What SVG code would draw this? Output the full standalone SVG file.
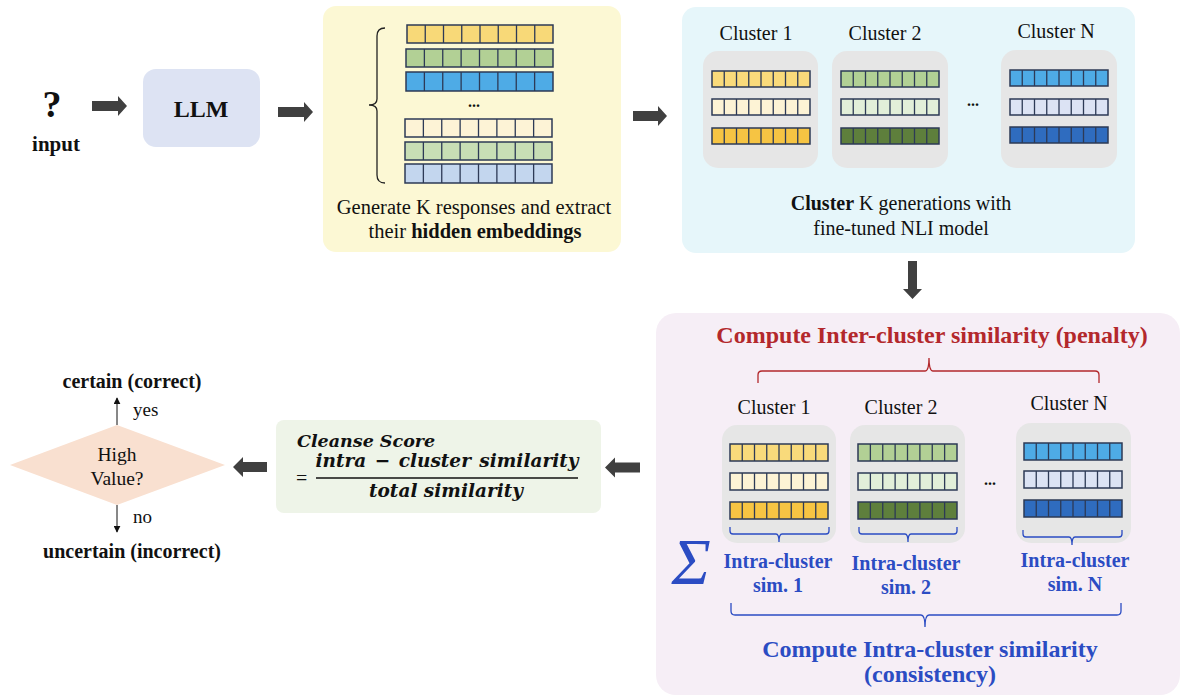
<svg xmlns="http://www.w3.org/2000/svg" xmlns:xlink="http://www.w3.org/1999/xlink" width="1182" height="697" viewBox="0 0 1182 697">
<style>
text{font-family:"Liberation Serif","Times New Roman",serif;fill:#111}
.t20{font-size:20px}
.b{font-weight:bold}
.mid{text-anchor:middle}
.red{fill:#b3282c}
.blue{fill:#2b4cc3}
.math{font-family:"DejaVu Serif",serif;font-weight:bold;font-style:italic;font-size:17.5px}
.gray{fill:#e6e6e6}
.arrow{fill:#404040}
</style>
<defs>
<symbol id="row" viewBox="0 0 80 10" preserveAspectRatio="none" style="overflow:visible">
<rect x="0" y="0" width="80" height="10" stroke="#2d3a56" stroke-width="1.5" vector-effect="non-scaling-stroke"/>
<path d="M10 0V10M20 0V10M30 0V10M40 0V10M50 0V10M60 0V10M70 0V10" stroke="#2d3a56" stroke-width="1.3" vector-effect="non-scaling-stroke" fill="none"/>
</symbol>
<marker id="ah" viewBox="0 0 10 10" refX="9" refY="5" markerWidth="7" markerHeight="7" orient="auto" markerUnits="userSpaceOnUse">
<path d="M0 0L10 5L0 10z" fill="#111"/>
</marker>
</defs>
<rect width="1182" height="697" fill="#fff"/>

<g id="input">
<text class="b mid" x="52" y="117" font-size="38">?</text>
<text class="b mid" x="56" y="151" font-size="21">input</text>
</g>

<g id="llm">
<rect x="143" y="69" width="117" height="78" rx="13" fill="#dde3f3"/>
<text class="b mid" x="201" y="117" font-size="24">LLM</text>
</g>

<g id="generate">
<rect x="323" y="6" width="298" height="246" rx="13" fill="#fcf8d4"/>
<path d="M385 28Q377 28 377 36V99Q377 105 369 105Q377 105 377 111V175Q377 183 385 183" fill="none" stroke="#222" stroke-width="1.3"/>
<use href="#row" x="407" y="25" width="146" height="18" fill="#f8d978"/>
<use href="#row" x="406" y="49" width="147" height="18" fill="#b2d095"/>
<use href="#row" x="406" y="72" width="147" height="19" fill="#4eabe6"/>
<text class="b mid" x="474" y="107" font-size="16">...</text>
<use href="#row" x="405" y="119" width="147" height="18" fill="#fdf3d6"/>
<use href="#row" x="405" y="142" width="147" height="18" fill="#c8deb5"/>
<use href="#row" x="405" y="164" width="147" height="19" fill="#c3d6ee"/>
<text class="mid" x="474" y="214" font-size="20.5">Generate K responses and extract</text>
<text class="mid" x="475" y="238" font-size="20.5">their <tspan class="b">hidden embeddings</tspan></text>
</g>

<g id="cluster-top">
<rect x="682" y="7" width="453" height="246" rx="14" fill="#e6f6fa"/>
<text class="t20 mid" x="756" y="40">Cluster 1</text>
<text class="t20 mid" x="885" y="40">Cluster 2</text>
<text class="t20 mid" x="1056" y="38">Cluster N</text>
<rect class="gray" x="703" y="51" width="115" height="117" rx="15"/>
<rect class="gray" x="832" y="51" width="116" height="117" rx="15"/>
<rect class="gray" x="1001" y="50" width="116" height="118" rx="15"/>
<use href="#row" x="712" y="71" width="98" height="16" fill="#f9da7b"/>
<use href="#row" x="712" y="99" width="98" height="16" fill="#fdf3d5"/>
<use href="#row" x="712" y="128" width="98" height="16" fill="#f6c443"/>
<use href="#row" x="841" y="71" width="98" height="16" fill="#b2d095"/>
<use href="#row" x="841" y="99" width="98" height="16" fill="#e2efd9"/>
<use href="#row" x="841" y="128" width="98" height="16" fill="#5e7f3c"/>
<use href="#row" x="1010" y="70" width="98" height="16" fill="#4eabe6"/>
<use href="#row" x="1010" y="99" width="98" height="16" fill="#dce3f4"/>
<use href="#row" x="1010" y="127" width="98" height="16" fill="#2f6cbf"/>
<text class="b mid" x="973" y="106" font-size="16">...</text>
<text class="t20 mid" x="901" y="210"><tspan class="b">Cluster</tspan> K generations with</text>
<text class="t20 mid" x="901" y="235">fine-tuned NLI model</text>
</g>

<g id="similarity">
<rect x="656" y="313" width="524" height="382" rx="20" fill="#f6eef6"/>
<text class="b mid red" x="932" y="343" font-size="24">Compute Inter-cluster similarity (penalty)</text>
<path d="M758 383V375Q758 371 762 371H925Q929 371 929 358Q929 371 933 371H1095Q1099 371 1099 375V383" fill="none" stroke="#b3282c" stroke-width="1.3"/>
<text class="t20 mid" x="774" y="414">Cluster 1</text>
<text class="t20 mid" x="901" y="414">Cluster 2</text>
<text class="t20 mid" x="1069" y="410">Cluster N</text>
<rect class="gray" x="722" y="425" width="114" height="118" rx="15"/>
<rect class="gray" x="850" y="425" width="115" height="118" rx="15"/>
<rect class="gray" x="1016" y="423" width="115" height="120" rx="15"/>
<use href="#row" x="730" y="444" width="98" height="17" fill="#f9da7b"/>
<use href="#row" x="730" y="473" width="98" height="17" fill="#fdf3d5"/>
<use href="#row" x="730" y="502" width="98" height="17" fill="#f6c443"/>
<use href="#row" x="858" y="444" width="99" height="17" fill="#b2d095"/>
<use href="#row" x="858" y="473" width="99" height="17" fill="#e2efd9"/>
<use href="#row" x="858" y="502" width="99" height="17" fill="#5e7f3c"/>
<use href="#row" x="1024" y="443" width="98" height="17" fill="#4eabe6"/>
<use href="#row" x="1024" y="471" width="98" height="17" fill="#dce3f4"/>
<use href="#row" x="1024" y="500" width="98" height="17" fill="#2f6cbf"/>
<text class="b mid" x="990" y="485" font-size="16">...</text>
<g fill="none" stroke="#2b4cc3" stroke-width="1.3">
<path d="M730 527V531Q730 534 733 534H776Q779 534 779 542Q779 534 782 534H826Q829 534 829 531V527"/>
<path d="M859 527V531Q859 534 862 534H905Q908 534 908 542Q908 534 911 534H954Q957 534 957 531V527"/>
<path d="M1023 530V534Q1023 537 1026 537H1069Q1072 537 1072 545Q1072 537 1075 537H1119Q1122 537 1122 534V530"/>
<path d="M731 603V611Q731 615 735 615H921Q925 615 925 627Q925 615 929 615H1117Q1121 615 1121 611V603"/>
</g>
<text class="blue" x="691" y="584" font-size="66" font-style="italic" text-anchor="middle">Σ</text>
<text class="t20 b mid blue" x="778" y="568">Intra-cluster</text>
<text class="t20 b mid blue" x="778" y="592">sim. 1</text>
<text class="t20 b mid blue" x="906" y="570">Intra-cluster</text>
<text class="t20 b mid blue" x="906" y="594">sim. 2</text>
<text class="t20 b mid blue" x="1075" y="567">Intra-cluster</text>
<text class="t20 b mid blue" x="1075" y="591">sim. N</text>
<text class="b mid blue" x="930" y="657" font-size="24">Compute Intra-cluster similarity</text>
<text class="b mid blue" x="930" y="682" font-size="24">(consistency)</text>
</g>

<g id="score">
<rect x="276" y="420" width="325" height="93" rx="8" fill="#eef4e8"/>
<text class="math" x="297" y="447">Cleanse Score</text>
<text x="296" y="485" font-size="20">=</text>
<text class="math mid" x="447" y="467" font-size="18.5" style="font-size:18.5px" word-spacing="2">intra − cluster similarity</text>
<line x1="316" y1="478" x2="578" y2="478" stroke="#111" stroke-width="1.5"/>
<text class="math mid" x="446" y="497" style="font-size:18.5px">total similarity</text>
</g>

<g id="decision">
<polygon points="10,465 117,425 225,465 117,505" fill="#f9e0d0"/>
<text class="mid" x="117" y="461" font-size="19.5">High</text>
<text class="mid" x="117" y="485" font-size="19.5">Value?</text>
<text class="t20 b mid" x="132" y="388">certain (correct)</text>
<text class="t20 b mid" x="132" y="558">uncertain (incorrect)</text>
<text x="133" y="416" font-size="19">yes</text>
<text x="133" y="523" font-size="19">no</text>
</g>

<g id="connectors">
<polygon class="arrow" points="92,101 118,101 118,96 127,106 118,116 118,111 92,111"/>
<polygon class="arrow" points="278,107 304,107 304,102 313,112 304,122 304,117 278,117"/>
<polygon class="arrow" points="633,111 658,111 658,106 667,116 658,126 658,121 633,121"/>
<polygon class="arrow" points="908,261 917,261 917,289 922,289 912.5,299 903,289 908,289"/>
<polygon class="arrow" points="640,462.5 615,462.5 615,457.5 605,467.5 615,477.5 615,472.5 640,472.5"/>
<polygon class="arrow" points="267,462 243,462 243,457 233,467 243,477 243,472 267,472"/>
<line x1="117" y1="425" x2="117" y2="398" stroke="#111" stroke-width="1" marker-end="url(#ah)"/>
<line x1="117" y1="505" x2="117" y2="532" stroke="#111" stroke-width="1" marker-end="url(#ah)"/>
</g>
</svg>
